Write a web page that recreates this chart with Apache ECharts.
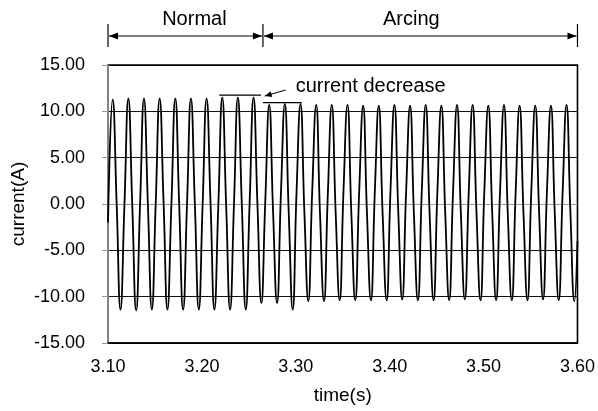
<!DOCTYPE html>
<html><head><meta charset="utf-8">
<script src="https://cdn.jsdelivr.net/npm/echarts@6/dist/echarts.min.js"></script>
<style>html,body{margin:0;padding:0;background:#fff}#c{width:598px;height:411px}</style>
</head><body><div id="c"></div>
<script>
const time = [3.1000,
3.1050,3.1092,3.1133,3.1175, 3.1217,3.1258,3.1300,3.1342, 3.1383,3.1425,3.1467,3.1508,
3.1550,3.1592,3.1633,3.1675, 3.1717,3.1758,3.1800,3.1842, 3.1883,3.1925,3.1967,3.2008,
3.2050,3.2092,3.2133,3.2175, 3.2217,3.2258,3.2300,3.2342, 3.2383,3.2425,3.2467,3.2508,
3.2550,3.2592,3.2633,3.2675, 3.2717,3.2758,3.2800,3.2842, 3.2883,3.2925,3.2967,3.3008,
3.3050,3.3092,3.3133,3.3175, 3.3217,3.3258,3.3300,3.3342, 3.3383,3.3425,3.3467,3.3508,
3.3550,3.3592,3.3633,3.3675, 3.3717,3.3758,3.3800,3.3842, 3.3883,3.3925,3.3967,3.4008,
3.4050,3.4092,3.4133,3.4175, 3.4217,3.4258,3.4300,3.4342, 3.4383,3.4425,3.4467,3.4508,
3.4550,3.4592,3.4633,3.4675, 3.4717,3.4758,3.4800,3.4842, 3.4883,3.4925,3.4967,3.5008,
3.5050,3.5092,3.5133,3.5175, 3.5217,3.5258,3.5300,3.5342, 3.5383,3.5425,3.5467,3.5508,
3.5550,3.5592,3.5633,3.5675, 3.5717,3.5758,3.5800,3.5842, 3.5883,3.5925,3.5967,3.6000];
const current = [-2.0,
11.3,0.1,-11.4,-0.1, 11.4,0.0,-11.5,0.1, 11.4,-0.1,-11.4,0.0,
11.4,0.1,-11.4,-0.1, 11.4,0.0,-11.4,0.1, 11.4,0.0,-11.4,0.0,
11.4,0.1,-11.4,-0.1, 11.5,0.0,-11.4,0.1, 11.5,0.0,-11.4,0.0,
11.5,-0.2,-10.7,0.3, 10.7,-0.8,-10.7,1.2, 10.8,-1.0,-11.4,1.3,
10.8,-1.0,-10.5,1.4, 10.7,-1.1,-10.5,1.3, 10.7,-1.0,-10.4,1.4,
10.7,-1.1,-10.4,1.3, 10.6,-1.0,-10.4,1.4, 10.6,-1.1,-10.4,1.3,
10.7,-1.0,-10.3,1.3, 10.6,-1.1,-10.4,1.4, 10.7,-1.0,-10.4,1.3,
10.6,-1.1,-10.4,1.4, 10.7,-1.0,-10.3,1.3, 10.7,-1.1,-10.4,1.4,
10.6,-1.0,-10.4,1.3, 10.7,-1.1,-10.4,1.4, 10.6,-1.0,-10.4,1.3,
10.6,-1.1,-10.3,1.4, 10.6,-1.0,-10.4,1.3, 10.7,-1.0,-10.5,-4.0];

const xMin = 3.10, xMax = 3.60, xStep = 0.10;
const yMin = -15, yMax = 15, yStep = 5;
const phaseBounds = [3.10, 3.265, 3.60];
const phaseLabels = ['Normal', 'Arcing'];
const phaseLabelTimes = [3.192, 3.423];
const decreaseSpans = [[3.2185, 3.2630], [3.2650, 3.3065]];
const decreaseLevels = [11.75, 10.95];
const noteArrow = [[3.2892, 12.3], [3.2669, 11.65]];
const noteText = 'current decrease';

const FONT = '"Liberation Sans", Arial, Helvetica, sans-serif';
const chart = echarts.init(document.getElementById('c'), null, {renderer: 'canvas'});
chart.setOption({
  animation: false,
  backgroundColor: '#fff',
  grid: {left: 108, right: 17, top: 65, bottom: 68, show: true, borderColor: '#000', borderWidth: 1.6, backgroundColor: 'transparent'},
  xAxis: {
    type: 'value', min: xMin, max: xMax, interval: xStep,
    name: 'time(s)', nameLocation: 'middle', nameGap: 43, nameMoveOverlap: false,
    nameTextStyle: {fontFamily: FONT, fontSize: 19, color: '#000'},
    axisLine: {show: true, onZero: false, lineStyle: {color: '#000', width: 1.6}},
    axisTick: {show: false}, splitLine: {show: false},
    axisLabel: {fontFamily: FONT, fontSize: 18, color: '#000', margin: 15, formatter: v => v.toFixed(2)}
  },
  yAxis: {
    type: 'value', min: yMin, max: yMax, interval: yStep,
    name: 'current(A)', nameLocation: 'middle', nameGap: 80, nameRotate: 90, nameMoveOverlap: false,
    nameTextStyle: {fontFamily: FONT, fontSize: 19, color: '#000'},
    axisLine: {show: true, onZero: false, lineStyle: {color: '#999', width: 1.6}},
    axisTick: {show: true, inside: false, length: 6, lineStyle: {color: '#999', width: 1}},
    splitLine: {show: true, lineStyle: {color: ['#000', '#111', '#111', '#999', '#111', '#111', '#000'], width: 1.2}},
    axisLabel: {fontFamily: FONT, fontSize: 18, color: '#000', margin: 23, formatter: v => v.toFixed(2)}
  },
  series: [{
    type: 'line', data: time.map((t, i) => [t, current[i]]),
    showSymbol: false, smooth: 0.5, clip: true,
    lineStyle: {color: '#000', width: 1.8}
  }]
});

function px(t, v) { return chart.convertToPixel({gridIndex: 0}, [t, v]); }
function arrowHead(tip, from, len, half) {
  const dx = tip[0] - from[0], dy = tip[1] - from[1];
  const d = Math.hypot(dx, dy), ux = dx / d, uy = dy / d;
  const bx = tip[0] - ux * len, by = tip[1] - uy * len;
  return {type: 'polygon', silent: true, shape: {points: [tip, [bx - uy * half, by + ux * half], [bx + uy * half, by - ux * half]]}, style: {fill: '#000'}};
}
const g = [];
const arrowY = 36;
const bx = phaseBounds.map(t => px(t, 0)[0]);
bx.forEach(x => g.push({type: 'line', silent: true, shape: {x1: x, y1: 24, x2: x, y2: 47}, style: {stroke: '#000', lineWidth: 1.2}}));
for (let i = 0; i < bx.length - 1; i++) {
  const a = bx[i] + 1, b = bx[i + 1] - 1;
  g.push({type: 'line', silent: true, shape: {x1: a, y1: arrowY, x2: b, y2: arrowY}, style: {stroke: '#000', lineWidth: 1.2}});
  g.push(arrowHead([a, arrowY], [b, arrowY], 9, 3.5));
  g.push(arrowHead([b, arrowY], [a, arrowY], 9, 3.5));
  g.push({type: 'text', silent: true, x: px(phaseLabelTimes[i], 0)[0], y: 19,
    style: {text: phaseLabels[i], fontFamily: FONT, fontSize: 20, fill: '#000', align: 'center', verticalAlign: 'middle'}});
}
decreaseSpans.forEach((s, i) => {
  const p1 = px(s[0], decreaseLevels[i]), p2 = px(s[1], decreaseLevels[i]);
  g.push({type: 'line', silent: true, shape: {x1: p1[0], y1: p1[1], x2: p2[0], y2: p2[1]}, style: {stroke: '#000', lineWidth: 1.2}});
});
const tail = px(noteArrow[0][0], noteArrow[0][1]), head = px(noteArrow[1][0], noteArrow[1][1]);
g.push({type: 'line', silent: true, shape: {x1: tail[0], y1: tail[1], x2: head[0], y2: head[1]}, style: {stroke: '#000', lineWidth: 1}});
g.push(arrowHead(head, tail, 7, 3));
g.push({type: 'text', silent: true, x: tail[0] + 10, y: 86,
  style: {text: noteText, fontFamily: FONT, fontSize: 20, fill: '#000', align: 'left', verticalAlign: 'middle'}});
chart.setOption({graphic: g});
</script></body></html>
